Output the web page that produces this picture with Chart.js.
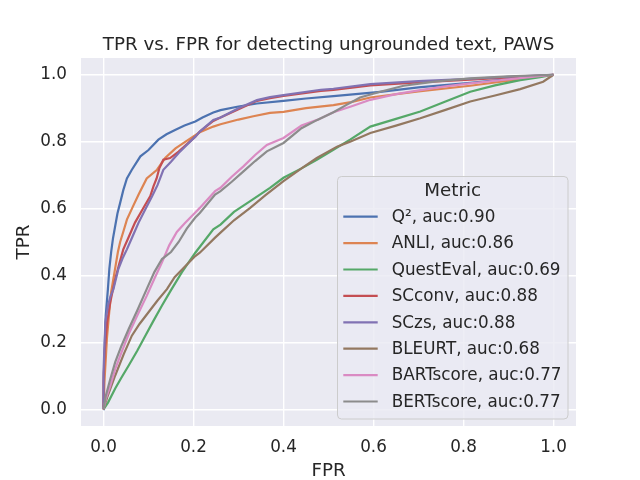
<!DOCTYPE html>
<html lang="en">
<head>
<meta charset="UTF-8">
<title>TPR vs. FPR for detecting ungrounded text, PAWS</title>
<script src="https://cdn.jsdelivr.net/npm/chart.js"></script>
<style>
  html, body { margin: 0; padding: 0; background: #fff; }
  #rocChart { display: block; }
</style>
</head>
<body>
<canvas id="rocChart" width="640" height="480"></canvas>
<script>
// legend entries
var metricNames = ['Q²', 'ANLI', 'QuestEval', 'SCconv', 'SCzs', 'BLEURT', 'BARTscore', 'BERTscore'];
var aucValues = ['0.90', '0.86', '0.69', '0.88', '0.88', '0.68', '0.77', '0.77'];
var tickVals = [0, 0.2, 0.4, 0.6, 0.8, 1.0];

// ROC curves
var q2Fpr = [0, 0.001, 0.003, 0.005, 0.0098, 0.013, 0.017, 0.021, 0.026, 0.031, 0.037, 0.044, 0.052, 0.063, 0.072, 0.082, 0.1, 0.122, 0.14, 0.159, 0.18, 0.204, 0.22, 0.244, 0.26, 0.3, 0.341, 0.4, 0.45, 0.511, 0.56, 0.615, 0.7, 0.815, 0.9, 1];
var q2Tpr = [0, 0.1, 0.2, 0.28, 0.359, 0.42, 0.47, 0.51, 0.548, 0.585, 0.617, 0.655, 0.69, 0.716, 0.735, 0.756, 0.775, 0.806, 0.822, 0.835, 0.848, 0.86, 0.872, 0.887, 0.894, 0.905, 0.914, 0.922, 0.929, 0.936, 0.942, 0.949, 0.962, 0.976, 0.987, 1];

var anliFpr = [0, 0.002, 0.005, 0.0075, 0.012, 0.017, 0.022, 0.027, 0.032, 0.037, 0.045, 0.052, 0.065, 0.078, 0.096, 0.119, 0.137, 0.16, 0.189, 0.214, 0.244, 0.26, 0.3, 0.333, 0.37, 0.4, 0.45, 0.511, 0.55, 0.593, 0.7, 0.815, 0.9, 1];
var anliTpr = [0, 0.08, 0.15, 0.21, 0.28, 0.35, 0.39, 0.43, 0.47, 0.5, 0.535, 0.567, 0.605, 0.642, 0.69, 0.716, 0.751, 0.78, 0.806, 0.828, 0.845, 0.852, 0.866, 0.876, 0.886, 0.889, 0.9, 0.909, 0.918, 0.932, 0.95, 0.967, 0.982, 1];

var questFpr = [0, 0.01, 0.026, 0.04, 0.056, 0.075, 0.093, 0.11, 0.13, 0.15, 0.174, 0.204, 0.244, 0.26, 0.29, 0.326, 0.37, 0.4, 0.44, 0.474, 0.51, 0.548, 0.593, 0.65, 0.704, 0.76, 0.815, 0.87, 0.926, 0.97, 1];
var questTpr = [0, 0.02, 0.062, 0.095, 0.131, 0.175, 0.22, 0.262, 0.31, 0.356, 0.409, 0.468, 0.538, 0.552, 0.59, 0.622, 0.662, 0.692, 0.72, 0.746, 0.775, 0.806, 0.845, 0.868, 0.89, 0.92, 0.949, 0.968, 0.984, 0.993, 1];

var scconvFpr = [0, 0, 0.003, 0.008, 0.015, 0.026, 0.035, 0.044, 0.057, 0.07, 0.087, 0.104, 0.111, 0.118, 0.124, 0.133, 0.148, 0.167, 0.204, 0.214, 0.244, 0.26, 0.3, 0.341, 0.37, 0.4, 0.483, 0.511, 0.593, 0.7, 0.815, 0.9, 1];
var scconvTpr = [0, 0.08, 0.18, 0.26, 0.32, 0.389, 0.435, 0.478, 0.518, 0.558, 0.598, 0.637, 0.666, 0.69, 0.72, 0.746, 0.751, 0.77, 0.815, 0.83, 0.862, 0.872, 0.897, 0.922, 0.93, 0.937, 0.952, 0.955, 0.968, 0.977, 0.985, 0.992, 1];

var sczsFpr = [0, 0, 0.004, 0.01, 0.015, 0.022, 0.033, 0.042, 0.052, 0.065, 0.078, 0.093, 0.108, 0.12, 0.133, 0.15, 0.167, 0.185, 0.204, 0.214, 0.244, 0.26, 0.3, 0.341, 0.37, 0.4, 0.483, 0.511, 0.593, 0.7, 0.815, 0.9, 1];
var sczsTpr = [0, 0.11, 0.26, 0.31, 0.335, 0.359, 0.419, 0.45, 0.478, 0.518, 0.558, 0.598, 0.637, 0.67, 0.716, 0.74, 0.766, 0.79, 0.815, 0.83, 0.865, 0.872, 0.9, 0.924, 0.933, 0.939, 0.955, 0.958, 0.972, 0.981, 0.988, 0.994, 1];

var bleurtFpr = [0, 0.008, 0.026, 0.045, 0.063, 0.08, 0.1, 0.12, 0.141, 0.158, 0.18, 0.204, 0.214, 0.248, 0.26, 0.29, 0.326, 0.36, 0.4, 0.44, 0.474, 0.519, 0.548, 0.593, 0.65, 0.704, 0.76, 0.815, 0.87, 0.926, 0.977, 1];
var bleurtTpr = [0, 0.035, 0.101, 0.165, 0.22, 0.255, 0.29, 0.325, 0.359, 0.395, 0.425, 0.458, 0.468, 0.513, 0.528, 0.565, 0.602, 0.64, 0.682, 0.72, 0.751, 0.785, 0.8, 0.826, 0.848, 0.87, 0.895, 0.92, 0.938, 0.957, 0.979, 1];

var bartFpr = [0, 0.005, 0.015, 0.026, 0.04, 0.056, 0.075, 0.096, 0.113, 0.13, 0.146, 0.163, 0.18, 0.204, 0.214, 0.248, 0.26, 0.285, 0.311, 0.337, 0.363, 0.4, 0.44, 0.475, 0.511, 0.55, 0.593, 0.65, 0.704, 0.76, 0.815, 0.87, 0.926, 1];
var bartTpr = [0, 0.03, 0.07, 0.12, 0.17, 0.225, 0.28, 0.339, 0.39, 0.439, 0.49, 0.53, 0.555, 0.588, 0.602, 0.652, 0.662, 0.695, 0.726, 0.76, 0.79, 0.811, 0.848, 0.865, 0.888, 0.905, 0.925, 0.942, 0.954, 0.965, 0.974, 0.982, 0.99, 1];

var bertFpr = [0, 0.005, 0.015, 0.026, 0.04, 0.056, 0.075, 0.096, 0.113, 0.13, 0.15, 0.167, 0.185, 0.204, 0.214, 0.248, 0.26, 0.285, 0.311, 0.337, 0.363, 0.4, 0.44, 0.475, 0.511, 0.54, 0.57, 0.615, 0.667, 0.74, 0.815, 0.9, 1];
var bertTpr = [0, 0.04, 0.09, 0.141, 0.19, 0.24, 0.295, 0.359, 0.41, 0.449, 0.47, 0.5, 0.54, 0.573, 0.587, 0.642, 0.652, 0.68, 0.711, 0.742, 0.771, 0.796, 0.84, 0.865, 0.888, 0.91, 0.932, 0.949, 0.967, 0.98, 0.989, 0.995, 1];

var fprLists = [q2Fpr, anliFpr, questFpr, scconvFpr, sczsFpr, bleurtFpr, bartFpr, bertFpr];
var tprLists = [q2Tpr, anliTpr, questTpr, scconvTpr, sczsTpr, bleurtTpr, bartTpr, bertTpr];

// seaborn "deep" palette
var palette = ['#4C72B0', '#DD8452', '#55A868', '#C44E52', '#8172B3', '#937860', '#DA8BC3', '#8C8C8C'];
var textColor = '#262626';
var fontFamily = "'DejaVu Sans', sans-serif";

var datasets = metricNames.map(function (name, i) {
    return {
        label: name + ', auc:' + aucValues[i],
        data: fprLists[i].map(function (x, j) { return { x: x, y: tprLists[i][j] }; }),
        borderColor: palette[i],
        backgroundColor: palette[i],
        borderWidth: 2.2,
        pointRadius: 0,
        tension: 0,
        fill: false,
        // later series drawn on top, like matplotlib
        order: metricNames.length - i
    };
});

// grey plot background
var bgPlugin = {
    id: 'bg',
    beforeDraw: function (chart) {
        var ctx = chart.ctx, a = chart.chartArea;
        ctx.save();
        ctx.fillStyle = '#ffffff';
        ctx.fillRect(0, 0, chart.width, chart.height);
        ctx.fillStyle = '#EAEAF2';
        ctx.fillRect(a.left, a.top, a.right - a.left, a.bottom - a.top);
        ctx.restore();
    }
};

// title + boxed legend in the lower right
var overlayPlugin = {
    id: 'overlay',
    afterDraw: function (chart) {
        var ctx = chart.ctx, a = chart.chartArea;
        ctx.save();
        ctx.fillStyle = textColor;
        ctx.font = '18.3px ' + fontFamily;
        ctx.textAlign = 'center';
        ctx.textBaseline = 'alphabetic';
        ctx.fillText('TPR vs. FPR for detecting ungrounded text, PAWS', (a.left + a.right) / 2, 49.5);

        var x0 = 337.5, y0 = 176.5, w = 230.5, h = 242.5, r = 4;
        ctx.beginPath();
        ctx.moveTo(x0 + r, y0);
        ctx.arcTo(x0 + w, y0, x0 + w, y0 + h, r);
        ctx.arcTo(x0 + w, y0 + h, x0, y0 + h, r);
        ctx.arcTo(x0, y0 + h, x0, y0, r);
        ctx.arcTo(x0, y0, x0 + w, y0, r);
        ctx.closePath();
        ctx.fillStyle = 'rgba(234,234,242,0.8)';
        ctx.fill();
        ctx.strokeStyle = '#cccccc';
        ctx.lineWidth = 1;
        ctx.stroke();

        ctx.fillStyle = textColor;
        ctx.textBaseline = 'middle';
        ctx.fillText('Metric', x0 + w / 2, 191);

        ctx.textAlign = 'left';
        ctx.font = '16.8px ' + fontFamily;
        chart.data.datasets.forEach(function (ds, i) {
            var y = 216.7 + i * 26.4;
            ctx.strokeStyle = ds.borderColor;
            ctx.lineWidth = 2.2;
            ctx.beginPath();
            ctx.moveTo(343.3, y);
            ctx.lineTo(377.7, y);
            ctx.stroke();
            ctx.fillStyle = textColor;
            ctx.fillText(ds.label, 391.7, y + 1);
        });
        ctx.restore();
    }
};

function fixedTicks(scale) {
    scale.ticks = tickVals.map(function (v) { return { value: v }; });
}

var ctx = document.getElementById('rocChart').getContext('2d');
var rocChart = new Chart(ctx, {
    type: 'line',
    data: { datasets: datasets },
    options: {
        responsive: false,
        animation: false,
        devicePixelRatio: 1,
        layout: { padding: { top: 58, right: 64, left: 0, bottom: 0 } },
        plugins: {
            legend: { display: false },
            tooltip: { enabled: false }
        },
        scales: {
            x: {
                type: 'linear',
                min: -0.05,
                max: 1.05,
                afterBuildTicks: fixedTicks,
                afterFit: function (s) { s.height = 54; },
                ticks: {
                    autoSkip: false,
                    maxRotation: 0,
                    padding: 12,
                    color: textColor,
                    font: { family: fontFamily, size: 16.8 },
                    callback: function (v) { return v.toFixed(1); }
                },
                grid: { color: '#ffffff', lineWidth: 1.4, drawTicks: false },
                border: { display: false },
                title: {
                    display: true,
                    text: 'FPR',
                    color: textColor,
                    font: { family: fontFamily, size: 18.3 },
                    padding: { top: 0, bottom: -2 }
                }
            },
            y: {
                type: 'linear',
                min: -0.05,
                max: 1.05,
                afterBuildTicks: fixedTicks,
                afterFit: function (s) { s.width = 81; },
                ticks: {
                    autoSkip: false,
                    padding: 14,
                    color: textColor,
                    font: { family: fontFamily, size: 16.8 },
                    callback: function (v) { return v.toFixed(1); }
                },
                grid: { color: '#ffffff', lineWidth: 1.4, drawTicks: false },
                border: { display: false },
                title: {
                    display: true,
                    text: 'TPR',
                    color: textColor,
                    font: { family: fontFamily, size: 18.3 },
                    padding: { top: 13, bottom: 0 }
                }
            }
        }
    },
    plugins: [bgPlugin, overlayPlugin]
});
</script>
</body>
</html>
